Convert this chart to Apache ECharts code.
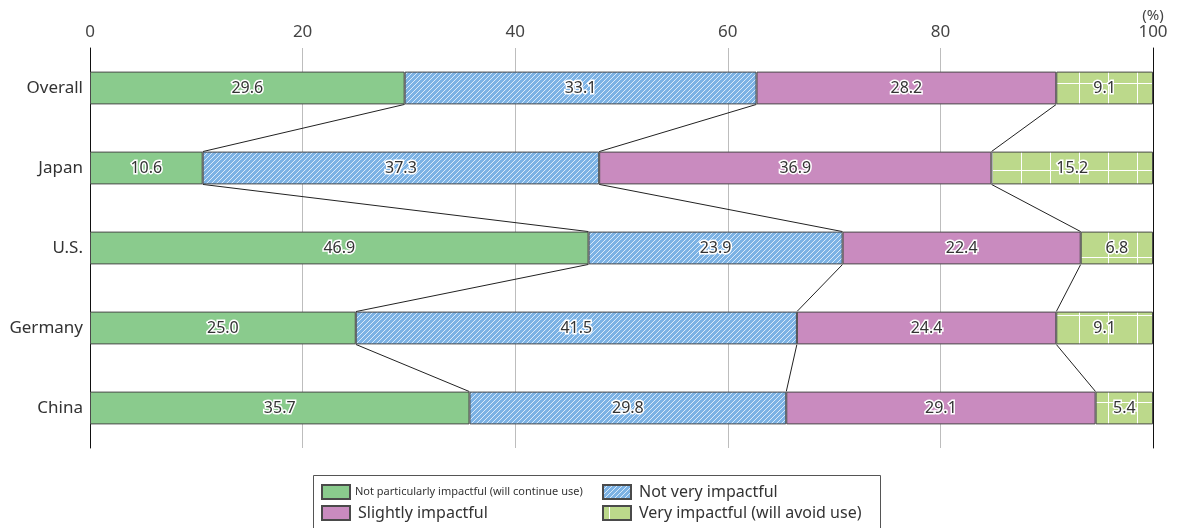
<!DOCTYPE html>
<html>
<head>
<meta charset="utf-8">
<style>
  html, body { margin: 0; padding: 0; background: #fff; }
  #chart { width: 1177px; height: 528px; }
</style>
<script src="https://cdn.jsdelivr.net/npm/echarts@6/dist/echarts.min.js"></script>
</head>
<body>
<div id="chart"></div>
<script>
// Survey results by region, shares in percent
const categories = ['Overall', 'Japan', 'U.S.', 'Germany', 'China'];
const notParticularly = [29.6, 10.6, 46.9, 25.0, 35.7];
const notVery = [33.1, 37.3, 23.9, 41.5, 29.8];
const slightly = [28.2, 36.9, 22.4, 24.4, 29.1];
const very = [9.1, 15.2, 6.8, 9.1, 5.4];
const seriesNames = [
  'Not particularly impactful (will continue use)',
  'Not very impactful',
  'Slightly impactful',
  'Very impactful (will avoid use)'
];
const xTicks = { min: 0, max: 100, step: 20 };

const BAR_RATIO = 0.41;
const FONT = "'Noto Sans', 'Open Sans', sans-serif";

// Diagonal hatch fill
function hatchTile() {
  const c = document.createElement('canvas');
  c.width = 5; c.height = 5;
  const g = c.getContext('2d');
  g.fillStyle = '#7cb2e4';
  g.fillRect(0, 0, 5, 5);
  g.fillStyle = '#d8e9f9';
  for (let i = 0; i < 5; i++) g.fillRect(i, 4 - i, 1, 1);
  return c;
}
// Square grid fill
function gridTile() {
  const c = document.createElement('canvas');
  c.width = 29; c.height = 29;
  const g = c.getContext('2d');
  g.fillStyle = '#bcd98b';
  g.fillRect(0, 0, 29, 29);
  g.fillStyle = '#ffffff';
  g.fillRect(6, 0, 1, 29);
  g.fillRect(0, 25, 29, 1);
  return c;
}

const fills = [
  '#8acb8d',
  { image: hatchTile(), repeat: 'repeat' },
  '#c98bbf',
  { image: gridTile(), repeat: 'repeat' }
];
const values = [notParticularly, notVery, slightly, very];

// Cumulative boundaries for the connector lines between neighbouring bars
const connectors = [];
for (let i = 0; i < categories.length - 1; i++) {
  let a = 0, b = 0;
  for (let k = 0; k < values.length - 1; k++) {
    a += values[k][i];
    b += values[k][i + 1];
    connectors.push([a, i, b]);
  }
}

const barSeries = values.map((vals, k) => ({
  name: seriesNames[k],
  type: 'bar',
  stack: 'total',
  barWidth: (BAR_RATIO * 100) + '%',
  z: 3,
  data: vals,
  itemStyle: { color: fills[k], borderColor: '#4a4a4a', borderWidth: 1 },
  label: {
    show: true,
    position: 'inside',
    formatter: p => p.value.toFixed(1),
    color: '#333',
    fontFamily: FONT,
    fontSize: 16,
    textBorderColor: '#fff',
    textBorderWidth: 3
  },
  emphasis: { disabled: true }
}));

const connectorSeries = {
  type: 'custom',
  z: 2,
  silent: true,
  encode: { x: [0, 2], y: 1 },
  data: connectors,
  renderItem: function (params, api) {
    const x1 = api.value(0), row = api.value(1), x2 = api.value(2);
    const p1 = api.coord([x1, row]);
    const p2 = api.coord([x2, row + 1]);
    const h = api.size([0, 1])[1] * BAR_RATIO / 2;
    return {
      type: 'line',
      shape: { x1: p1[0], y1: p1[1] + h, x2: p2[0], y2: p2[1] - h },
      style: { stroke: '#222', lineWidth: 1 }
    };
  }
};

function legendAt(name, left, top, small) {
  return {
    data: [name],
    left: left,
    top: top,
    orient: 'vertical',
    icon: 'rect',
    itemWidth: 28,
    itemHeight: 14,
    itemGap: 4,
    padding: 0,
    selectedMode: false,
    textStyle: {
      fontFamily: FONT,
      fontSize: small ? 11 : 16,
      color: '#333',
      padding: [0, 0, 0, small ? 0 : 3]
    }
  };
}

const chart = echarts.init(document.getElementById('chart'), null, { renderer: 'canvas' });
chart.setOption({
  animation: false,
  backgroundColor: '#fff',
  grid: { left: 90, right: 24, top: 48, bottom: 80, containLabel: false },
  xAxis: {
    type: 'value',
    position: 'top',
    min: xTicks.min,
    max: xTicks.max,
    interval: xTicks.step,
    axisLine: { show: false },
    axisTick: { show: false },
    axisLabel: {
      margin: 7,
      color: '#444',
      fontFamily: FONT,
      fontSize: 17,
      formatter: v => v === xTicks.max ? '{u|(%)}\n' + v : String(v),
      rich: { u: { fontSize: 15, color: '#444', fontFamily: FONT, lineHeight: 17 } }
    },
    splitLine: { lineStyle: { color: '#bdbdbd', width: 1 } }
  },
  yAxis: [{
    type: 'category',
    inverse: true,
    data: categories,
    axisLine: { lineStyle: { color: '#111', width: 1 } },
    axisTick: { show: false },
    axisLabel: { margin: 7, color: '#333', fontFamily: FONT, fontSize: 17 }
  }, {
    type: 'category',
    position: 'right',
    inverse: true,
    data: categories,
    axisLine: { show: true, lineStyle: { color: '#111', width: 1 } },
    axisTick: { show: false },
    axisLabel: { show: false }
  }],
  legend: [
    legendAt(seriesNames[0], 321, 484, true),
    legendAt(seriesNames[1], 602, 484, false),
    legendAt(seriesNames[2], 321, 505, false),
    legendAt(seriesNames[3], 602, 505, false)
  ],
  graphic: [{
    type: 'rect',
    left: 311,
    top: 473,
    shape: { width: 567, height: 60 },
    style: { fill: 'none', stroke: '#555', lineWidth: 1 },
    silent: true
  }],
  series: barSeries.concat([connectorSeries])
});
</script>
</body>
</html>
